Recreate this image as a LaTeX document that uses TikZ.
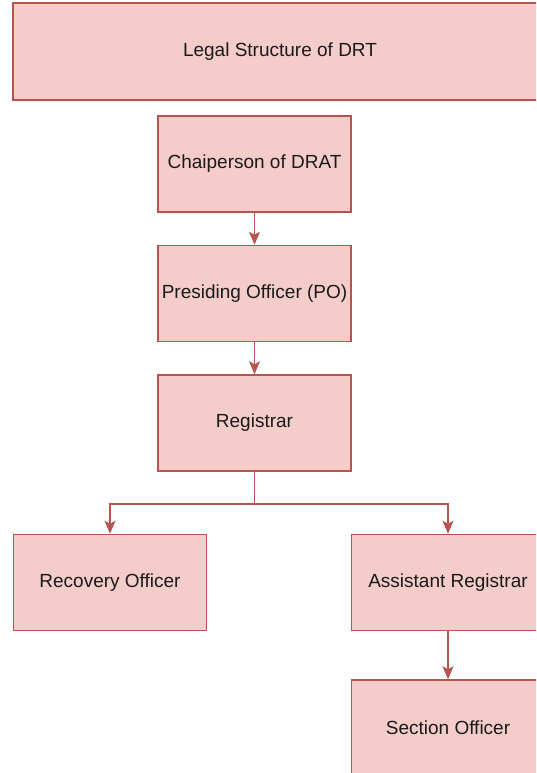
\documentclass[tikz,border=0pt]{standalone}
\usepackage{fontspec}
\setmainfont{Liberation Sans}
\usetikzlibrary{arrows.meta,calc,positioning}
\definecolor{boxfill}{HTML}{F4CCCA}
\definecolor{boxline}{HTML}{B85450}
\definecolor{txt}{HTML}{1A1A1A}
\tikzset{
  box/.style={rectangle,draw=boxline,fill=boxfill,line width=1.5pt,
    minimum width=193pt,minimum height=96pt,inner sep=0pt,
    text=txt,font=\fontsize{19}{22}\selectfont},
  titlebox/.style={box,minimum width=534pt,minimum height=97pt},
  edge/.style={-{Stealth[length=13pt,width=11pt,inset=3pt]},draw=boxline,line width=1.5pt},
  uedge/.style={draw=boxline,line width=1.5pt}
}
\begin{document}
\begin{tikzpicture}[x=1pt,y=-1pt]
\useasboundingbox (0,0) rectangle (536,773);
\clip (0,0) rectangle (536,773);
% nodes
\node[titlebox] (title) at (280,51.5) {Legal Structure of DRT};
\node[box] (chair) at (254.5,164) {Chaiperson of DRAT};
\node[box,below=32pt of chair] (po) {Presiding Officer (PO)};
\node[box,below=32pt of po] (reg) {Registrar};
\node[box] (rec) at (110,582.5) {Recovery Officer};
\node[box] (asst) at (448,582.5) {Assistant Registrar};
\node[box,below=48pt of asst] (sec) {Section Officer};
% edges
\coordinate (split) at ($(reg.south)+(0,32)$);
\draw[edge] (chair) -- (po);
\draw[edge] (po) -- (reg);
\draw[uedge] (reg.south) -- (split);
\draw[edge] (split) -| (rec.north);
\draw[edge] (split) -| (asst.north);
\draw[edge] (asst) -- (sec);
\end{tikzpicture}
\end{document}
